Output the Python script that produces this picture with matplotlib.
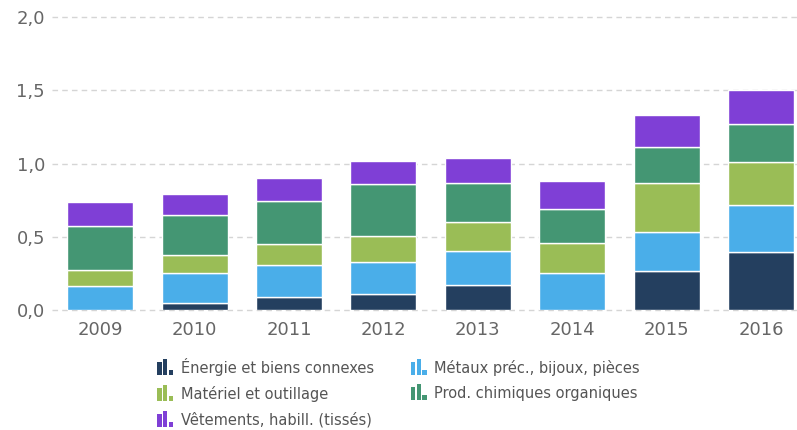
import matplotlib
matplotlib.use("Agg")
import matplotlib.pyplot as plt
import numpy as np
from matplotlib.legend_handler import HandlerBase
from matplotlib.patches import Rectangle

# data
years = ["2009", "2010", "2011", "2012", "2013", "2014", "2015", "2016"]
energie = [0.0, 0.05, 0.09, 0.11, 0.17, 0.0, 0.265, 0.395]
metaux = [0.165, 0.205, 0.22, 0.22, 0.23, 0.255, 0.27, 0.32]
materiel = [0.11, 0.12, 0.14, 0.175, 0.20, 0.20, 0.33, 0.295]
chimie = [0.30, 0.275, 0.295, 0.355, 0.27, 0.235, 0.25, 0.26]
vetements = [0.165, 0.14, 0.155, 0.155, 0.165, 0.19, 0.215, 0.235]

labels = ["Énergie et biens connexes", "Métaux préc., bijoux, pièces",
          "Matériel et outillage", "Prod. chimiques organiques",
          "Vêtements, habill. (tissés)"]
colors = ["#243f5f", "#4aaee9", "#9abd56", "#449673", "#7f3fd6"]
series = [energie, metaux, materiel, chimie, vetements]


class BarIconHandler(HandlerBase):
    # small "bar chart" glyph like the original legend
    def create_artists(self, legend, orig_handle, xdescent, ydescent,
                       width, height, fontsize, trans):
        col = orig_handle.get_facecolor()
        bw = width * 0.27
        step = width * 0.36
        hs = [0.8, 1.0, 0.3]
        arts = []
        for i, h in enumerate(hs):
            r = Rectangle((-xdescent + i * step, -ydescent - 1),
                          bw, (height + 3) * h, facecolor=col,
                          edgecolor="none", transform=trans)
            arts.append(r)
        return arts


fig = plt.figure(figsize=(7.97, 4.30), dpi=100)
ax = fig.add_axes([0.0652, 0.279, 0.9348, 0.6815])

x = np.arange(len(years))
bottom = np.zeros(len(years))
handles = []
for vals, lab, c in zip(series, labels, colors):
    vals = np.array(vals)
    ax.bar(x, vals, 0.70, bottom=bottom, color=c, edgecolor="white",
           linewidth=1.0, label=lab, zorder=3)
    bottom += vals
    handles.append(Rectangle((0, 0), 1, 1, facecolor=c))

ax.set_xlim(-0.51, 7.38)
ax.set_ylim(0, 2.0)
ax.set_yticks([0, 0.5, 1.0, 1.5, 2.0])
ax.set_yticklabels(["0,0", "0,5", "1,0", "1,5", "2,0"])
ax.set_xticks(x)
ax.set_xticklabels(years)
ax.tick_params(length=0, labelsize=13, colors="#666666")
ax.tick_params(axis="x", pad=8)
ax.tick_params(axis="y", pad=5)
for s in ax.spines.values():
    s.set_visible(False)
ax.yaxis.grid(True, linestyle=(0, (4, 3)), color="#d5d5d5", linewidth=1,
              zorder=0)
for gl in ax.get_ygridlines():
    gl.set_clip_on(False)
ax.set_axisbelow(True)

# row-major order in a 2-column legend (matplotlib fills by column)
order = [0, 2, 4, 1, 3]
leg = fig.legend([handles[i] for i in order], [labels[i] for i in order],
                 handler_map={Rectangle: BarIconHandler()},
                 loc="upper left", bbox_to_anchor=(0.19, 0.182), ncol=2,
                 frameon=False, fontsize=10.5, handlelength=1.1,
                 handleheight=0.9, handletextpad=0.5, columnspacing=2.55,
                 labelspacing=0.7, borderaxespad=0)
for t in leg.get_texts():
    t.set_color("#555555")

fig.savefig("out.png", dpi=100)
